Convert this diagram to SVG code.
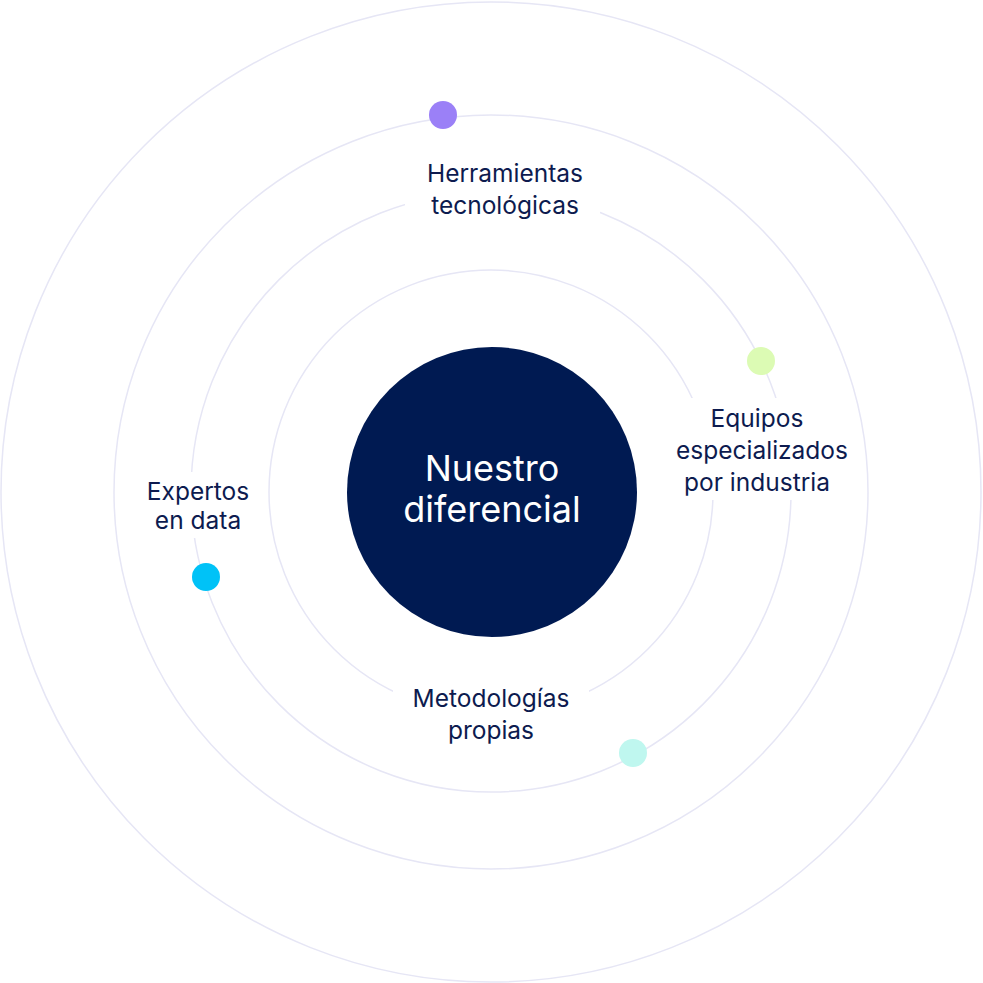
<svg xmlns="http://www.w3.org/2000/svg" width="983" height="983" viewBox="0 0 983 983">
<style>
.ring{fill:none;stroke:#e6e6f5;stroke-width:1.5}
.lbl{font-family:Inter,"Open Sans",sans-serif;font-size:24.5px;fill:#0d1b4f;text-anchor:middle}
.bg{fill:#fff}
</style>
<rect width="983" height="983" fill="#fff"/>
<g id="rings">
<circle class="ring" cx="491" cy="492" r="490"/>
<circle class="ring" cx="491" cy="492" r="377"/>
<circle class="ring" cx="491" cy="492" r="300"/>
<circle class="ring" cx="491" cy="492" r="222"/>
</g>
<g id="center">
<circle cx="492" cy="492" r="145" fill="#001a52"/>
<text x="492" y="481" font-family="Inter,'Open Sans',sans-serif" font-size="36" fill="#fff" text-anchor="middle">Nuestro</text>
<text x="492" y="522" font-family="Inter,'Open Sans',sans-serif" font-size="36" fill="#fff" text-anchor="middle">diferencial</text>
</g>
<g id="herramientas">
<rect class="bg" x="405" y="152" width="195" height="70"/>
<circle cx="443" cy="115" r="14" fill="#9b80f7"/>
<text class="lbl" x="505" y="182">Herramientas</text>
<text class="lbl" x="505" y="214">tecnológicas</text>
</g>
<g id="equipos">
<rect class="bg" x="665" y="398" width="188" height="102"/>
<circle cx="761" cy="361" r="14" fill="#dcfbb4"/>
<text class="lbl" x="757" y="427">Equipos</text>
<text class="lbl" x="762" y="459">especializados</text>
<text class="lbl" x="757" y="491">por industria</text>
</g>
<g id="expertos">
<rect class="bg" x="135" y="472" width="124" height="66"/>
<circle cx="206" cy="577" r="14" fill="#00c2f7"/>
<text class="lbl" x="198" y="500">Expertos</text>
<text class="lbl" x="198" y="529">en data</text>
</g>
<g id="metodologias">
<rect class="bg" x="393" y="678" width="196" height="70"/>
<circle cx="633" cy="753" r="14" fill="#bff7ef"/>
<text class="lbl" x="491" y="707">Metodologías</text>
<text class="lbl" x="491" y="739">propias</text>
</g>
<g id="connectors"></g>
</svg>
